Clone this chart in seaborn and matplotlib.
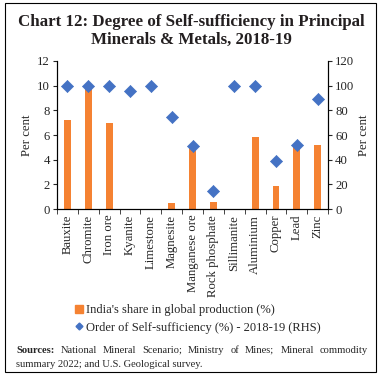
import pandas as pd
import seaborn as sns
import matplotlib.pyplot as plt
from matplotlib.patches import Rectangle
from matplotlib.lines import Line2D

minerals = ['Bauxite', 'Chromite', 'Iron ore', 'Kyanite', 'Limestone', 'Magnesite',
            'Manganese ore', 'Rock phosphate', 'Sillimanite', 'Aluminium', 'Copper',
            'Lead', 'Zinc']
india_share = [7.2, 9.7, 7.0, 0, 0, 0.5, 5.1, 0.55, 0, 5.85, 1.9, 5.1, 5.2]
self_suff = [100, 100, 100, 96, 100, 75, 51, 15, 100, 100, 39, 52, 89]

df = pd.DataFrame({'mineral': minerals, 'share': india_share, 'suff': self_suff})

sns.set_style('white')
plt.rcParams['font.family'] = ['Liberation Serif', 'DejaVu Serif']

bar_col = '#F58232'
dot_col = '#4472C4'
fs = 9.2

fig = plt.figure(figsize=(3.82, 3.81), dpi=100)
ax = fig.add_axes([0.149, 0.451, 0.71, 0.389])
sns.barplot(data=df, x='mineral', y='share', color=bar_col, width=0.33,
            saturation=1, linewidth=0, ax=ax)
ax.set_ylim(0, 12)
ax.set_yticks(range(0, 13, 2))
ax.set_xlim(-0.5, len(minerals) - 0.5)
ax.set_xlabel('')
ax.set_ylabel('Per cent', fontsize=fs, labelpad=3)
ax.set_xticks(range(len(minerals)))
ax.set_xticklabels(minerals, rotation=90, fontsize=fs)
ax.tick_params(axis='x', length=0, pad=4)
ax.tick_params(axis='y', length=3, labelsize=fs, direction='out', left=True, pad=2)
# tick marks between categories
ax.set_xticks([i - 0.5 for i in range(len(minerals) + 1)], minor=True)
ax.tick_params(axis='x', which='minor', length=3.5, direction='out', bottom=True)
for s in ['left', 'right', 'bottom']:
    ax.spines[s].set_color('black')
    ax.spines[s].set_linewidth(0.8)
ax.spines['top'].set_visible(False)

ax2 = ax.twinx()
sns.scatterplot(data=df, x='mineral', y='suff', marker='D', color=dot_col, s=38,
                edgecolor=dot_col, ax=ax2, zorder=5)
ax2.set_xlim(-0.5, len(minerals) - 0.5)
ax2.set_ylim(0, 120)
ax2.set_yticks(range(0, 121, 20))
ax2.set_ylabel('Per cent', fontsize=fs, labelpad=3)
ax2.tick_params(axis='y', length=3, labelsize=fs, direction='out', right=True, pad=2)
ax2.spines['top'].set_visible(False)
for s in ['left', 'right', 'bottom']:
    ax2.spines[s].set_color('black')
    ax2.spines[s].set_linewidth(0.8)

fig.text(0.5, 0.942, 'Chart 12: Degree of Self-sufficiency in Principal',
         ha='center', va='center', fontsize=12.2, fontweight='bold', color='#231F20')
fig.text(0.5, 0.895, 'Minerals & Metals, 2018-19',
         ha='center', va='center', fontsize=12.2, fontweight='bold', color='#231F20')

handles = [Line2D([], [], marker='s', color=bar_col, linestyle='none', markersize=6),
           Line2D([], [], marker='D', color=dot_col, linestyle='none', markersize=3.5)]
labels = ["India's share in global production (%)",
          'Order of Self-sufficiency (%) - 2018-19 (RHS)']
fig.legend(handles, labels, loc='upper left', bbox_to_anchor=(0.175, 0.215),
           frameon=False, fontsize=9, handletextpad=0.0, handlelength=1.1,
           labelspacing=0.45, borderaxespad=0)

# justified first line of the sources note
src_words = ['Sources:', 'National', 'Mineral', 'Scenario;', 'Ministry', 'of', 'Mines;',
             'Mineral', 'commodity']
x0, x1, y_src = 0.042, 0.963, 0.081
renderer = fig.canvas.get_renderer()
txts = []
for i, w in enumerate(src_words):
    t = fig.text(0, y_src, w, fontsize=7.6, va='center',
                 fontweight='bold' if i == 0 else 'normal')
    txts.append(t)
widths = [t.get_window_extent(renderer).width / fig.bbox.width for t in txts]
gap = (x1 - x0 - sum(widths)) / (len(txts) - 1)
pos = x0
for t, w in zip(txts, widths):
    t.set_x(pos)
    pos += w + gap
fig.text(x0, 0.043, 'summary 2022; and U.S. Geological survey.', fontsize=7.6, va='center')

fig.patches.append(Rectangle((0.013, 0.024), 0.972, 0.968, transform=fig.transFigure,
                             fill=False, edgecolor='black', linewidth=0.8))

fig.savefig('out.png', dpi=100)
